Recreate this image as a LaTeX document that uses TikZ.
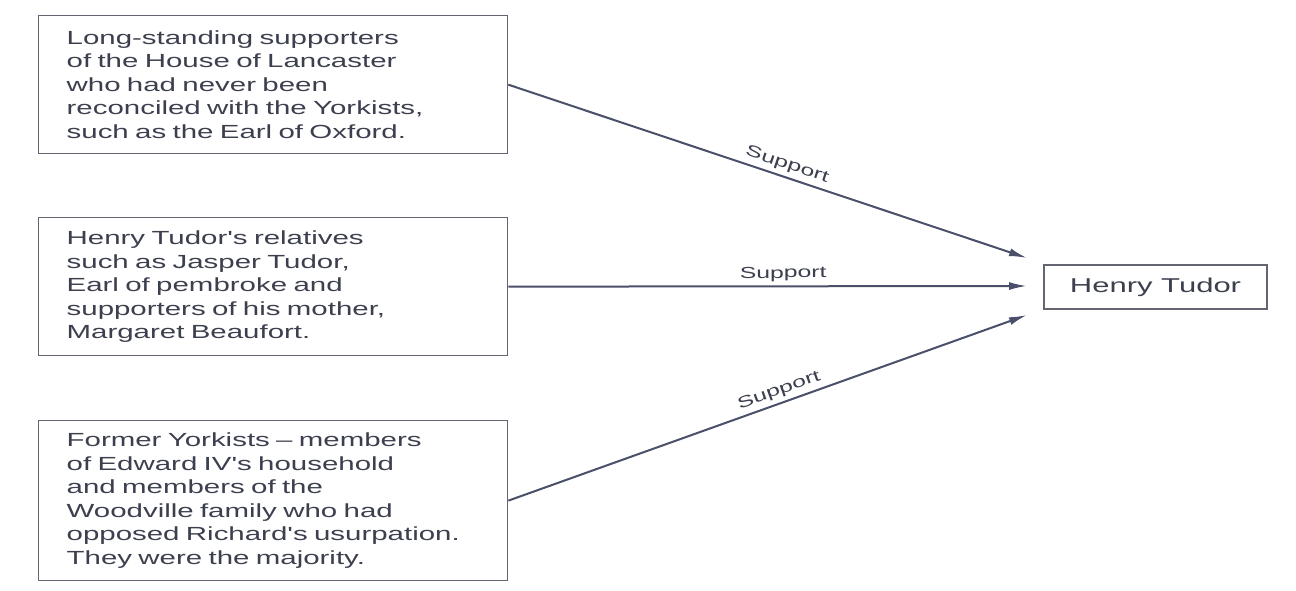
\documentclass[tikz,border=0pt]{standalone}
\usepackage{fontspec}
\setmainfont{Liberation Sans}
\newfontfamily\boxfont[FakeStretch=1.55]{Liberation Sans}
\usepackage{xcolor}
\usetikzlibrary{arrows.meta}
\definecolor{inkgray}{HTML}{3C3F4E}
\definecolor{linegray}{HTML}{4A4F6A}

\begin{document}
\begin{tikzpicture}[x=1pt,y=-1pt,
    group/.style={draw=inkgray!80,line width=1.3pt,anchor=north west,
        minimum width=469pt,inner xsep=28pt,text width=413pt,align=left,
        text=inkgray,font=\boxfont\fontsize{19}{23.5}\selectfont},
    support/.style={draw=linegray,line width=2pt,-{Latex[length=18pt,width=8pt]}},
    lbl/.style={text=inkgray,font=\boxfont\fontsize{16}{18}\selectfont,
        above,sloped,pos=0.53,inner sep=4pt}]
    \useasboundingbox (0,0) rectangle (1296,591);
    % the three groups
    \node[group,minimum height=138pt] (lanc) at (38,15)
        {Long-standing supporters\\of the House of Lancaster\\who had never been\\reconciled with the Yorkists,\\such as the Earl of Oxford.};
    \node[group,minimum height=138pt] (kin) at (38,217)
        {Henry Tudor's relatives\\such as Jasper Tudor,\\Earl of pembroke and\\supporters of his mother,\\Margaret Beaufort.};
    \node[group,minimum height=160pt] (york) at (38,420)
        {Former Yorkists \textendash{} members\\of Edward IV's household\\and members of the\\Woodville family who had\\opposed Richard's usurpation.\\They were the majority.};
    \node[draw=inkgray!80,line width=1.3pt,minimum width=223pt,minimum height=44pt,
        text=inkgray,font=\boxfont\fontsize{20}{24}\selectfont] (henry) at (1155.5,287) {Henry Tudor};
    % arrow tips stop short of the box
    \coordinate (tipa) at (1027,258);
    \coordinate (tipb) at (1027,286);
    \coordinate (tipc) at (1027,315);
    \draw[support] (lanc.east) -- node[lbl]{Support} (tipa);
    \draw[support] (kin.east) -- node[lbl]{Support} (tipb);
    \draw[support] (york.east) -- node[lbl]{Support} (tipc);
\end{tikzpicture}
\end{document}
